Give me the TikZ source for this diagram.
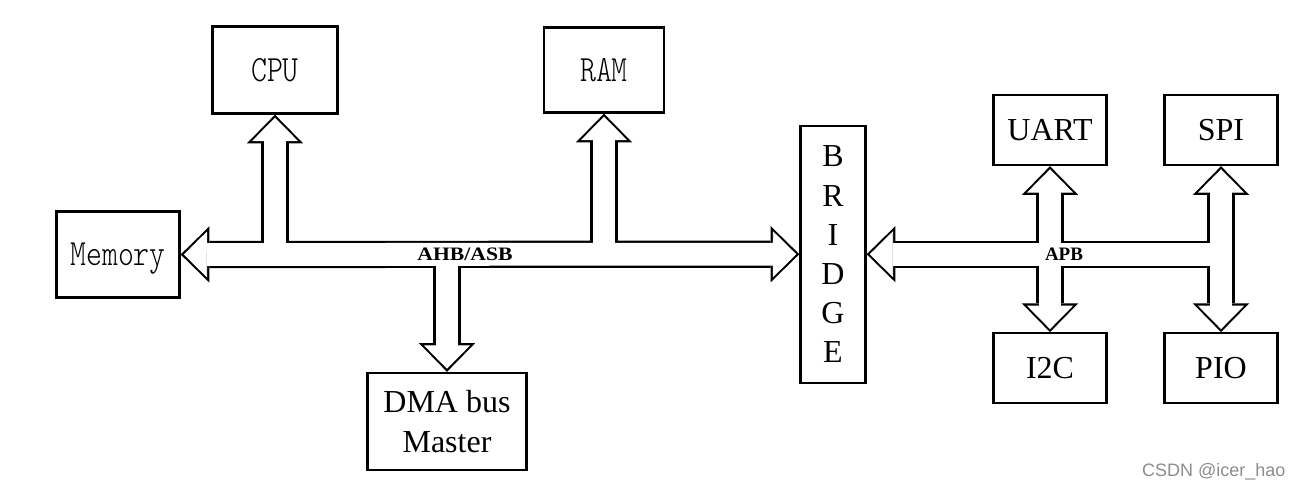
\documentclass[tikz,border=0pt]{standalone}
\usepackage{fontspec}
\setmainfont{Liberation Serif}
\newfontfamily\wmfont{Liberation Sans}
\usetikzlibrary{arrows.meta}
\usetikzlibrary{calc}
\newcommand{\simtext}[1]{{\ttfamily\fontseries{l}\fontsize{37}{44}\selectfont\scalebox{0.82}[1]{#1}}}

\begin{document}
\begin{tikzpicture}[x=1pt, y=-1pt]
	\useasboundingbox (0,0) rectangle (1302,489);

	% blocks
	\begin{scope}[every node/.style={draw, line width=2.3pt, inner sep=0pt, text depth=0pt, align=center, font=\fontsize{32}{39.5}\selectfont}]
		\node (cpu) [minimum width=125pt, minimum height=87pt] at (275,70) {\simtext{CPU}};
		\node (ram) [minimum width=120pt, minimum height=85pt] at (604,70) {\simtext{RAM}};
		\node (mem) [minimum width=123pt, minimum height=86pt] at (118,254.5) {\simtext{Memory}};
		\node (dma) [minimum width=159pt, minimum height=97pt] at (447,421.5) {DMA bus\\Master};
		\node (bridge) [minimum width=65pt, minimum height=257pt, font=\fontsize{32}{39.1}\selectfont] at (833,254.2) {B\\R\\I\\D\\G\\E};
		\node (uart) [minimum width=113pt, minimum height=70pt] at (1050,130) {UART};
		\node (spi) [minimum width=113pt, minimum height=70pt] at (1221,130) {SPI};
		\node (i2c) [minimum width=113pt, minimum height=70pt] at (1050,368.3) {I2C};
		\node (pio) [minimum width=113pt, minimum height=70pt] at (1221,368.3) {PIO};
	\end{scope}

	% bus outlines
	\begin{scope}[line width=27.2pt, black,
	              >={Triangle[length=28.7pt, width=56.2pt, line width=0pt]}]
		\draw[<->] (mem.east) -- (bridge.west);
		\draw[->] (cpu.south |- mem.east) -- (cpu.south);
		\draw[->] (ram.south |- mem.east) -- (ram.south);
		\draw[->] (dma.north |- mem.east) -- (dma.north);
		\draw[<-] (bridge.east) -- (spi.south |- bridge.east);
		\draw[<->] (uart.south) -- (i2c.north);
		\draw[<->] (spi.south) -- (pio.north);
	\end{scope}

	% bus insides
	\begin{scope}[line width=22.8pt, white,
	              >={Triangle[length=23.3pt, width=45.8pt, line width=0.8pt]},
	              shorten <=3.1pt, shorten >=3.1pt]
		\draw[<->] (mem.east) -- (bridge.west);
		\draw[->] (cpu.south |- mem.east) -- (cpu.south);
		\draw[->] (ram.south |- mem.east) -- (ram.south);
		\draw[->] (dma.north |- mem.east) -- (dma.north);
		\draw[<-] (bridge.east) -- (spi.south |- bridge.east);
		\draw[<->] (uart.south) -- (i2c.north);
		\draw[<->] (spi.south) -- (pio.north);
	\end{scope}

	% bus names
	\begin{scope}[every node/.style={inner sep=0pt, font=\bfseries\fontsize{19}{22}\selectfont}]
		\node (ahb) at (465,254) {\scalebox{1.14}[1]{AHB/ASB}};
		\node (apb) at (1064,254.5) {APB};
	\end{scope}

	\node (mark) [anchor=base west, inner sep=0pt, text=black!45, font=\wmfont\fontsize{18}{20}\selectfont] at (1142,476.7) {CSDN @icer\_hao};
\end{tikzpicture}
\end{document}
